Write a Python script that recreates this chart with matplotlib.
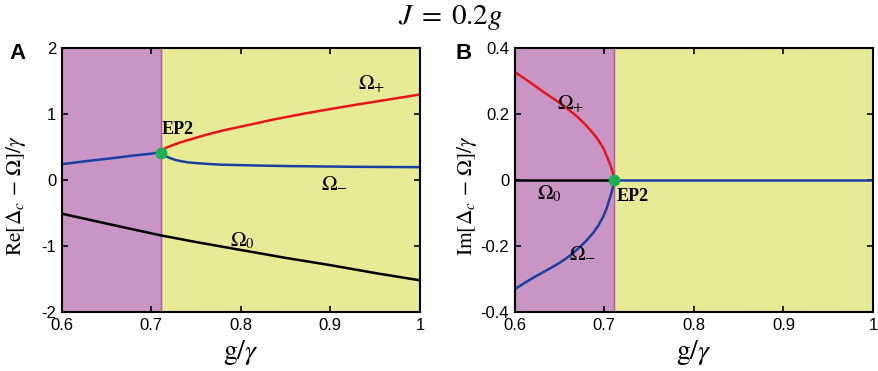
import numpy as np
import matplotlib
matplotlib.use("Agg")
import matplotlib.pyplot as plt

plt.rcParams['mathtext.fontset'] = 'stix'
plt.rcParams['axes.unicode_minus'] = False
plt.rcParams['font.family'] = 'Liberation Sans'

# exceptional point position
g_ep = 0.711

# panel A: real parts
re_low_g = [0.6, 0.63, 0.656, 0.68, 0.711]
re_low_v = [0.24, 0.29, 0.33, 0.37, 0.416]
re_plus_g = [0.711, 0.7125, 0.7134, 0.717, 0.7228, 0.732, 0.7413, 0.76, 0.7786, 0.797,
             0.8158, 0.834, 0.853, 0.8716, 0.890, 0.9088, 0.927, 0.946, 0.965, 0.983, 1.0]
re_plus_v = [0.416, 0.446, 0.462, 0.49, 0.522, 0.567, 0.606, 0.68, 0.745, 0.80,
             0.855, 0.91, 0.96, 1.008, 1.052, 1.095, 1.137, 1.178, 1.22, 1.258, 1.297]
re_minus_g = [0.711, 0.7123, 0.7153, 0.721, 0.7265, 0.734, 0.7413, 0.76, 0.7786, 0.816,
              0.853, 0.927, 1.0]
re_minus_v = [0.416, 0.392, 0.366, 0.332, 0.306, 0.283, 0.266, 0.246, 0.232, 0.22,
              0.211, 0.2, 0.195]
re_zero_g = [0.6, 0.65, 0.711, 0.75, 0.8, 0.85, 0.9, 0.95, 1.0]
re_zero_v = [-0.51, -0.66, -0.84, -0.94, -1.06, -1.18, -1.29, -1.41, -1.52]

# panel B: imaginary parts
im_g = [0.6, 0.604, 0.6134, 0.6227, 0.632, 0.6413, 0.6506, 0.6598, 0.669, 0.6785,
        0.6877, 0.6933, 0.699, 0.7027, 0.7064, 0.7084, 0.710, 0.711]
im_plus_v = [0.327, 0.32, 0.303, 0.285, 0.267, 0.25, 0.233, 0.214, 0.194, 0.169,
             0.141, 0.121, 0.096, 0.073, 0.048, 0.032, 0.015, 0.0]
im_minus_v = [-0.331, -0.324, -0.308, -0.293, -0.279, -0.265, -0.25, -0.233, -0.212, -0.188,
              -0.16, -0.138, -0.11, -0.085, -0.053, -0.035, -0.016, 0.0]
im_after_g = [0.711, 1.0]
im_after_v = [0.0, 0.0]
im_zero_g = [0.6, 0.711]
im_zero_v = [0.0, 0.0]

purple = '#c895c5'
yellow = '#e8eb95'
red = '#e8141a'
blue = '#1a3fa0'
green = '#1fae55'

fig = plt.figure(figsize=(8.79, 3.71), dpi=100)
axA = fig.add_axes([0.0702, 0.159, 0.4076, 0.7116])
axB = fig.add_axes([0.5856, 0.159, 0.4076, 0.7116])

serif = 'Liberation Serif'

for ax, ylim in [(axA, (-2, 2)), (axB, (-0.4, 0.4))]:
    ax.axvspan(0.6, g_ep, color=purple, lw=0, zorder=0)
    ax.axvspan(g_ep, 1.0, color=yellow, lw=0, zorder=0)
    ax.axvline(g_ep, color='#b44fb4', lw=1.0, zorder=1)
    ax.set_xlim(0.6, 1.0)
    ax.set_ylim(*ylim)
    ax.set_xticks([0.6, 0.7, 0.8, 0.9, 1.0])
    ax.set_xticklabels(['0.6', '0.7', '0.8', '0.9', '1'])
    ax.tick_params(direction='in', top=True, right=True, length=4, width=1.2,
                   labelsize=12, pad=4)
    for s in ax.spines.values():
        s.set_linewidth(1.5)
    ax.set_xlabel(r'$\mathrm{g}/\gamma$', fontsize=20, labelpad=4)

# panel A
axA.plot(re_zero_g, re_zero_v, color='k', lw=1.8)
axA.plot(re_low_g, re_low_v, color=blue, lw=1.8)
axA.plot(re_minus_g, re_minus_v, color=blue, lw=1.8)
axA.plot(re_plus_g, re_plus_v, color=red, lw=1.8)
axA.plot([g_ep], [0.416], 'o', color=green, ms=7.5, zorder=5)
axA.set_yticks([-2, -1, 0, 1, 2])
axA.set_yticklabels(['-2', '-1', '0', '1', '2'])
axA.set_ylabel(r'$\mathrm{Re}\left[\Delta_c\,-\,\Omega\right]/\gamma$', fontsize=15.5)
axA.yaxis.set_label_coords(-0.094, 0.44)
axA.text(0.7115, 0.70, 'EP2', fontsize=13, fontweight='bold', family=serif)
axA.text(0.946, 1.45, r'$\Omega_{+}$', fontsize=15, ha='center', va='center')
axA.text(0.905, -0.04, r'$\Omega_{-}$', fontsize=15, ha='center', va='center')
axA.text(0.802, -0.92, r'$\Omega_{0}$', fontsize=15, ha='center', va='center')

# panel B
axB.plot(im_zero_g, im_zero_v, color='k', lw=1.8)
axB.plot(im_after_g, im_after_v, color=blue, lw=1.8)
axB.plot(im_g, im_plus_v, color=red, lw=1.8)
axB.plot(im_g, im_minus_v, color=blue, lw=1.8)
axB.plot([g_ep], [0.0], 'o', color=green, ms=7.5, zorder=5)
axB.set_yticks([-0.4, -0.2, 0, 0.2, 0.4])
axB.set_yticklabels(['-0.4', '-0.2', '0', '0.2', '0.4'])
axB.set_ylabel(r'$\mathrm{Im}\left[\Delta_c\,-\,\Omega\right]/\gamma$', fontsize=15.5)
axB.yaxis.set_label_coords(-0.1, 0.44)
axB.text(0.714, -0.05, 'EP2', fontsize=13, fontweight='bold', family=serif, va='center')
axB.text(0.662, 0.23, r'$\Omega_{+}$', fontsize=15, ha='center', va='center')
axB.text(0.639, -0.04, r'$\Omega_{0}$', fontsize=15, ha='center', va='center')
axB.text(0.676, -0.22, r'$\Omega_{-}$', fontsize=15, ha='center', va='center')

fig.text(0.011, 0.841, 'A', fontsize=16, fontweight='bold')
fig.text(0.518, 0.841, 'B', fontsize=16, fontweight='bold')
fig.text(0.513, 0.952, r'$J\;=\;0.2g$', fontsize=21, ha='center', va='center')

fig.savefig('out.png', dpi=100)
